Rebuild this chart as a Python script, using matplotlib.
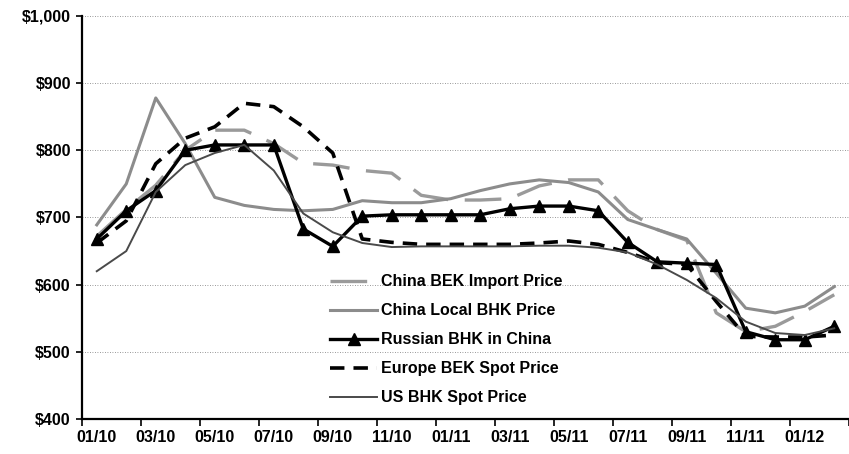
import matplotlib.pyplot as plt
import numpy as np

plt.rcParams['font.family'] = ['Liberation Sans', 'DejaVu Sans']

# monthly categories 01/10 .. 02/12
months = [f'{m:02d}/{y}' for y in (10, 11) for m in range(1, 13)] + ['01/12', '02/12']

china_bek_import = [672, 712, 748, 800, 830, 830, 810, 781, 778, 770, 766, 733, 726,
                    726, 728, 747, 756, 756, 710, 682, 666, 558, 530, 538, 560, 585]
china_local_bhk = [689, 750, 878, 810, 730, 718, 712, 710, 712, 725, 722, 722, 728,
                   740, 750, 756, 752, 738, 697, 682, 668, 617, 565, 558, 568, 597]
russian_bhk = [668, 710, 740, 800, 808, 808, 808, 683, 657, 702, 704, 704, 704,
               704, 713, 717, 717, 710, 663, 634, 632, 630, 530, 518, 518, 538]
europe_bek = [662, 695, 780, 818, 835, 870, 865, 835, 796, 668, 663, 660, 660,
              660, 660, 662, 665, 660, 648, 633, 630, 575, 523, 522, 522, 525]
us_bhk = [620, 650, 738, 778, 796, 808, 770, 706, 678, 662, 656, 657, 657,
          657, 657, 658, 658, 655, 648, 630, 607, 580, 545, 528, 525, 535]

x = np.arange(len(months))

fig = plt.figure(figsize=(8.49, 4.54), dpi=100)
ax = fig.add_axes([0.0966, 0.0771, 0.9034, 0.8877])

for v in range(500, 1001, 100):
    ax.axhline(v, color='#777777', lw=0.6, ls=(0, (1, 2)), zorder=0)

ax.plot(x, china_bek_import, color='#9a9a9a', lw=2.4, ls=(0, (11, 5)),
        label='China BEK Import Price')
ax.plot(x, china_local_bhk, color='#8c8c8c', lw=2.2, label='China Local BHK Price')
ax.plot(x, russian_bhk, color='black', lw=2.4, marker='^', ms=8,
        label='Russian BHK in China')
ax.plot(x, europe_bek, color='black', lw=2.6, ls=(0, (4, 2.5)),
        label='Europe BEK Spot Price')
ax.plot(x, us_bhk, color='#4a4a4a', lw=1.4, label='US BHK Spot Price')

ax.set_xlim(-0.5, len(months) - 0.5)
ax.set_ylim(400, 1000)
ax.set_yticks(range(400, 1001, 100))
ax.set_yticklabels([f'${v:,}' for v in range(400, 1001, 100)],
                   fontweight='bold', fontsize=11.5)
ax.set_xticks(x[::2])
ax.set_xticklabels(months[::2], fontweight='bold', fontsize=11.5)
ax.set_xticks(np.arange(-0.5, len(months), 2), minor=True)
ax.tick_params(axis='x', which='major', length=0, pad=8)
ax.tick_params(axis='x', which='minor', length=5, width=1.2, direction='out')
ax.tick_params(axis='y', length=4, width=1.2, direction='out', pad=4)

for s in ('top', 'right'):
    ax.spines[s].set_visible(False)
for s in ('left', 'bottom'):
    ax.spines[s].set_linewidth(1.6)

ax.legend(loc='upper left', bbox_to_anchor=(0.389, 0.396), bbox_transform=fig.transFigure,
          frameon=False, prop={'weight': 'bold', 'size': 11.5}, handlelength=2.95,
          handletextpad=0.2, labelspacing=0.88, borderpad=0, borderaxespad=0)

fig.savefig('out.png', dpi=100)
